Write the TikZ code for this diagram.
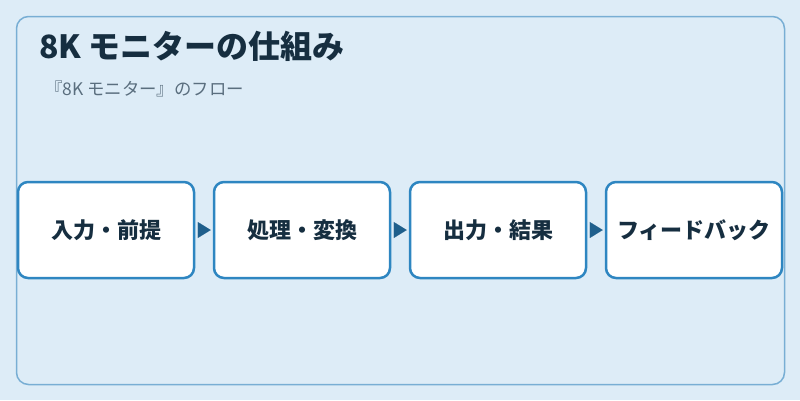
\documentclass[tikz,border=0pt]{standalone}
\usepackage{fontspec}
\setmainfont{Noto Sans CJK JP}
\usetikzlibrary{arrows.meta}
\definecolor{bgc}{RGB}{221,236,247}
\definecolor{framec}{RGB}{120,174,212}
\definecolor{boxc}{RGB}{46,134,193}
\definecolor{arrowc}{RGB}{31,95,140}
\definecolor{titlec}{RGB}{22,46,64}
\definecolor{subc}{RGB}{90,110,126}
\tikzset{
  stepbox/.style={draw=boxc, line width=2.5pt, fill=white, rounded corners=10pt,
    minimum width=176pt, minimum height=96pt, inner sep=0pt,
    font=\fontsize{22pt}{26pt}\selectfont\bfseries, text=titlec},
  flowarrow/.style={-{Triangle[length=13pt,width=16pt]}, arrowc, line width=0.1pt,
    shorten <=3pt, shorten >=2pt}
}
\begin{document}
\begin{tikzpicture}[x=1pt,y=-1pt]
\useasboundingbox (0,0) rectangle (800,400);
\fill[bgc] (0,0) rectangle (800,400);
\draw[framec, line width=1.5pt, rounded corners=12pt] (16.5,16.5) rectangle (784.5,384.5);
\node[anchor=base west, text=titlec, font=\fontsize{32pt}{38pt}\selectfont\bfseries, inner sep=0pt] (title) at (39,58) {8K モニターの仕組み};
\node[anchor=base west, text=subc, font=\fontsize{17.4pt}{20pt}\selectfont, inner sep=0pt] (sub) at (45,95) {『8K モニター』のフロー};
\node[stepbox] (b1) at (106,230) {入力・前提};
\node[stepbox] (b2) at (302,230) {処理・変換};
\node[stepbox] (b3) at (498,230) {出力・結果};
\node[stepbox] (b4) at (694,230) {フィードバック};
\draw[flowarrow] (b1.east) -- (b2.west);
\draw[flowarrow] (b2.east) -- (b3.west);
\draw[flowarrow] (b3.east) -- (b4.west);
\end{tikzpicture}
\end{document}
